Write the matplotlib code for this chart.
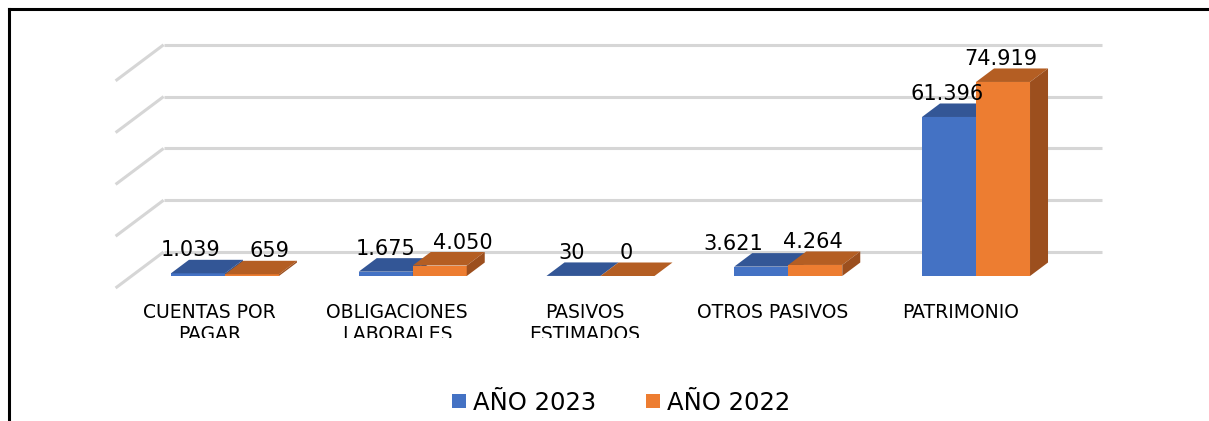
import matplotlib
matplotlib.use('Agg')
import matplotlib.pyplot as plt
from matplotlib.patches import Polygon
from matplotlib.lines import Line2D
from matplotlib.transforms import Bbox, TransformedBbox

# ---------------- data ----------------
categories = ["CUENTAS POR\nPAGAR", "OBLIGACIONES\nLABORALES", "PASIVOS\nESTIMADOS",
              "OTROS PASIVOS", "PATRIMONIO"]
series_names = ["AÑO 2023", "AÑO 2022"]
values_2023 = [1039, 1675, 30, 3621, 61396]
values_2022 = [659, 4050, 0, 4264, 74919]
y_ticks = [0, 20000, 40000, 60000, 80000]

# ---------------- style / layout ----------------
plt.rcParams['font.family'] = ['DejaVu Sans']
W, H, DPI = 1209, 421, 100
fig = plt.figure(figsize=(W / DPI, H / DPI), dpi=DPI)
fig.patch.set_facecolor('white')

ax_l, ax_r = 131.1, 1069.9     # px from left
ax_b, ax_t = 276.0, 68.8       # px from top
ax = fig.add_axes([ax_l / W, (H - ax_b) / H, (ax_r - ax_l) / W, (ax_b - ax_t) / H])
n = len(categories)
ax.set_xlim(-0.5, n - 0.5)
ax.set_ylim(0, y_ticks[-1])
ax.axis('off')

ppx = n / (ax_r - ax_l)               # data-x per pixel
ppy = y_ticks[-1] / (ax_b - ax_t)     # data-y per pixel


def off(dx, dy):
    return dx * ppx, dy * ppy


back = off(32.5, 24)      # back wall relative to bar front plane
front = off(-15.5, -12)   # front floor edge relative to bar front plane
depth = off(18, 13.5)     # bar depth
bw = 54 * ppx             # bar width

grid_c = '#D6D6D6'
for v in y_ticks:
    ax.plot([-0.5 + back[0], n - 0.5 + back[0]], [v + back[1]] * 2,
            color=grid_c, lw=2.2, clip_on=False, zorder=1, solid_capstyle='butt')
    ax.plot([-0.5 + back[0], -0.5 + front[0]], [v + back[1], v + front[1]],
            color=grid_c, lw=2.2, clip_on=False, zorder=1, solid_capstyle='butt')

colors = [
    dict(front='#4472C4', top='#335696', side='#2C4C86'),
    dict(front='#ED7D31', top='#B45E23', side='#9C4F1E'),
]
series = [values_2023, values_2022]
label_dx = [[-7, 18], [0, 23], [-2, -1], [-28, -2], [-2, -2]]

z = 2
for i in range(n):
    for s in range(2):
        h = series[s][i]
        x0 = i - bw + s * bw
        x1 = x0 + bw
        c = colors[s]
        ax.bar([x0 + bw / 2], [h], width=bw, color=c['front'], zorder=z, clip_on=False,
               linewidth=0)
        top = Polygon([(x0, h), (x1, h), (x1 + depth[0], h + depth[1]), (x0 + depth[0], h + depth[1])],
                      closed=True, facecolor=c['top'], edgecolor='none', zorder=z, clip_on=False)
        side = Polygon([(x1, 0), (x1, h), (x1 + depth[0], h + depth[1]), (x1 + depth[0], depth[1])],
                       closed=True, facecolor=c['side'], edgecolor='none', zorder=z, clip_on=False)
        ax.add_patch(top)
        ax.add_patch(side)
        z += 1

# value labels
for i in range(n):
    for s in range(2):
        h = series[s][i]
        xc = i - bw / 2 + s * bw
        lab = f"{h:,}".replace(',', '.')
        ax.annotate(lab, xy=(xc, h + depth[1]), xytext=(label_dx[i][s], 3.5),
                    textcoords='offset pixels', ha='center', va='baseline',
                    fontsize=15, color='#000000', zorder=50, annotation_clip=False)

# category labels (clipped at the bottom like the original)
clip = TransformedBbox(Bbox([[0, (H - 337.5) / H], [1, 1]]), fig.transFigure)
for i, cat in enumerate(categories):
    t = fig.text(0, 0, cat, ha='center', va='top', fontsize=13.5, color='#000000',
                 linespacing=1.2, multialignment='center',
                 transform=ax.transData + matplotlib.transforms.ScaledTranslation(0, -15 / DPI, fig.dpi_scale_trans))
    t.set_position((i + front[0], front[1]))
    t.set_clip_box(clip)
    t.set_clip_on(True)

# legend
handles = [Line2D([], [], marker='s', linestyle='none', markersize=10.5,
                  markerfacecolor=colors[k]['front'], markeredgewidth=0) for k in range(2)]
fig.legend(handles, series_names, loc='center', bbox_to_anchor=(621 / W, (H - 403) / H),
           ncol=2, frameon=False, fontsize=17.5, handlelength=0.6, handletextpad=0.3,
           columnspacing=2.0, borderpad=0, borderaxespad=0)

# border (top and left)
fig.add_artist(Line2D([9 / W, 1], [1 - 8.5 / H, 1 - 8.5 / H], color='black', lw=2.2,
                      transform=fig.transFigure))
fig.add_artist(Line2D([9 / W, 9 / W], [0, 1 - 8.5 / H], color='black', lw=2.2,
                      transform=fig.transFigure))

fig.savefig('out.png', dpi=DPI, facecolor='white')
